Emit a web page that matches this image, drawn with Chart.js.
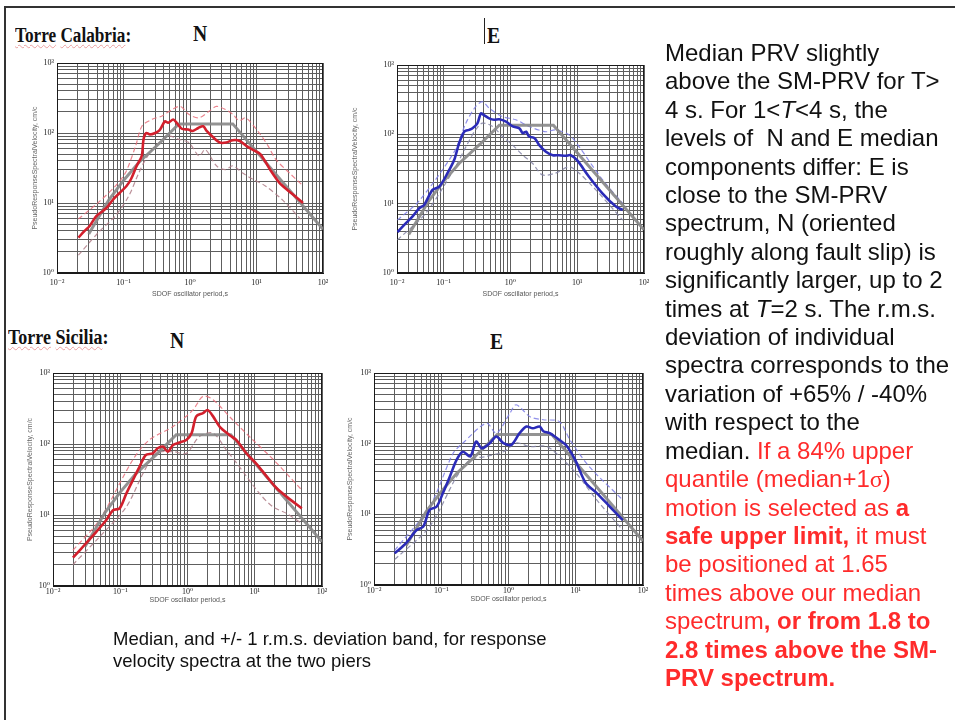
<!DOCTYPE html>
<html><head><meta charset="utf-8">
<script src="https://cdn.jsdelivr.net/npm/chart.js@4.4.1/dist/chart.umd.min.js"></script>
<style>
html,body{margin:0;padding:0;background:#fff;}
body{width:955px;height:720px;position:relative;overflow:hidden;font-family:'Liberation Sans',Arial,sans-serif;}
canvas{position:absolute;left:0;top:0;pointer-events:none;}
.frameTop{position:absolute;left:4px;top:6px;width:951px;height:2px;background:#333;}
.frameLeft{position:absolute;left:4px;top:6px;width:2px;height:714px;background:#333;}
.hd{position:absolute;font-family:'Liberation Serif','Times New Roman',serif;font-weight:bold;line-height:1;white-space:nowrap;transform-origin:0 0;color:#111;}
.sp{text-decoration:underline wavy rgba(220,90,90,0.55);text-decoration-thickness:1px;text-underline-offset:2px;}
.cursor{position:absolute;left:484px;top:18px;width:1px;height:26px;background:#222;}
.txt{position:absolute;left:665px;top:39px;font-size:24px;line-height:28.4px;color:#111;white-space:nowrap;}
.red{color:#ff2b2b;}
.cap{position:absolute;left:113px;top:628px;font-size:18.5px;line-height:22px;color:#111;white-space:nowrap;}
</style>
</head><body>
<div class="frameTop"></div><div class="frameLeft"></div>

<div class="hd" style="left:15px;top:25px;font-size:20px;transform:scaleX(0.86)"><span class="sp">Torre</span> <span class="sp">Calabria</span>:</div>
<div class="hd" style="left:193px;top:21px;font-size:24px;transform:scaleX(0.82)">N</div>
<div class="cursor"></div>
<div class="hd" style="left:487px;top:23px;font-size:24px;transform:scaleX(0.82)">E</div>
<div class="hd" style="left:8px;top:327px;font-size:20px;transform:scaleX(0.9)"><span class="sp">Torre</span> <span class="sp">Sicilia</span>:</div>
<div class="hd" style="left:170px;top:328px;font-size:24px;transform:scaleX(0.82)">N</div>
<div class="hd" style="left:490px;top:329px;font-size:24px;transform:scaleX(0.82)">E</div>

<canvas id="c1" width="955" height="720"></canvas>
<canvas id="c2" width="955" height="720"></canvas>
<canvas id="c3" width="955" height="720"></canvas>
<canvas id="c4" width="955" height="720"></canvas>

<div class="txt">Median PRV slightly<br>above the SM-PRV for T&gt;<br>4 s. For 1&lt;<i>T</i>&lt;4 s, the<br>levels of&nbsp; N and E median<br>components differ: E is<br>close to the SM-PRV<br>spectrum, N (oriented<br>roughly along fault slip) is<br>significantly larger, up to 2<br>times at <i>T</i>=2 s. The r.m.s.<br>deviation of individual<br>spectra corresponds to the<br>variation of +65% / -40%<br>with respect to the<br>median. <span class="red">If a 84% upper<br>quantile (median+1<span style="font-family:'Liberation Serif',serif">σ</span>)<br>motion is selected as <b>a<br>safe upper limit,</b> it must<br>be positioned at 1.65<br>times above our median<br>spectrum<b>, or from 1.8 to<br>2.8 times above the SM-<br>PRV spectrum.</b></span></div>

<div class="cap">Median, and +/- 1 r.m.s. deviation band, for response<br>velocity spectra at the two piers</div>

<script>
// ---------- axis labels ----------
const gridMultipliers = [1,2,3,4,5,6,7,8,9];
const yTickValues = [1, 10, 100, 1000];
const yTickLabels = ['10⁰','10¹','10²','10³'];
const xTickValues = [0.01, 0.1, 1, 10, 100];
const xTickLabels = ['10⁻²','10⁻¹','10⁰','10¹','10²'];
const xTickValuesCalE = [0.02, 0.1, 1, 10, 100];   // reference panel is cropped on the left, label kept at the edge
const xTitle = 'SDOF oscillator period,s';
const yTitle = 'PseudoResponseSpectralVelocity, cm/c';

// ---------- SM-PRV reference spectrum (grey) ----------
const smprvT = [0.03, 0.06, 0.1, 0.17, 0.35, 0.68, 4.4, 100];
const smprvV = [3.6, 11, 21, 38, 72, 135, 135, 4.2];

// ---------- Torre Calabria N ----------
const calN_medT = [0.021,0.026,0.031,0.039,0.049,0.056,0.07,0.088,0.111,0.13,0.158,0.188,0.2,0.22,0.25,0.3,0.35,0.42,0.47,0.56,0.63,0.75,0.94,1.1,1.33,1.58,1.78,2.25,2.8,3.5,4.4,5.6,7.1,9,11.4,16,22,30,40,50];
const calN_med  = [3.2,4.0,4.7,6.5,7.7,8.6,11.3,14,17.5,22,34,47,81,100,95,100,110,147,140,156,140,115,112,107,118,125,107,86,73,73,79,77,65,57,50,30,19.6,15,12,10];
const calN_upT = [0.021,0.042,0.076,0.107,0.152,0.19,0.27,0.38,0.54,0.72,0.96,1.37,1.94,2.5,3.4,4.4,5.5,6.9,11,15,19.5,31,49];
const calN_up  = [5.9,10.2,17.6,27,65,126,157,175,217,240,185,165,205,240,217,185,150,165,100,65,42,27,18];
const calN_loT = [0.021,0.042,0.076,0.12,0.17,0.215,0.3,0.48,0.68,0.96,1.37,1.7,2.5,3.4,4.4,6.1,8.7,13.6,24,46];
const calN_lo  = [1.8,3.8,6.6,12.6,27,42,65,90,81,73,47,58,34,30,34,27,22,17.5,11.3,5.9];

// ---------- Torre Calabria E ----------
const calE_medT = [0.0203,0.027,0.034,0.043,0.051,0.068,0.086,0.114,0.144,0.17,0.203,0.24,0.27,0.32,0.36,0.40,0.48,0.57,0.68,0.86,1.08,1.36,1.53,1.72,1.9,2.3,2.7,3.4,4.3,5.3,6.7,8.0,10,15,24,38,48];
const calE_med  = [3.9,5.2,6.5,8.6,9.6,15.8,17.6,27.5,43,74,109,116,122,144,200,190,170,162,165,152,130,122,104,109,93,88,70,56,50,50,49,50,42,24.5,14,9.1,8.1];
const calE_upT = [0.0203,0.043,0.144,0.215,0.30,0.38,0.48,0.76,1.2,1.9,3.4,4.7,7.6,10.7,24,48];
const calE_up  = [5.8,11,56,145,250,296,238,180,162,130,109,116,98,66,22,10.1];
const calE_loT = [0.0203,0.054,0.15,0.215,0.30,0.38,0.54,0.76,1.08,1.53,2.15,3.0,4.7,7.6,10.7,19,48];
const calE_lo  = [3.0,7.3,34,66,116,145,130,93,70,50,38,26,27.5,34,27.5,15.8,5.8];

// ---------- Torre Sicilia N ----------
const sicN_medT = [0.0198,0.031,0.044,0.062,0.078,0.098,0.123,0.154,0.194,0.24,0.305,0.36,0.43,0.51,0.61,0.76,0.96,1.15,1.35,1.7,2.0,2.4,3.0,4.2,5.3,7.5,10.5,15,21,30,50];
const sicN_med  = [2.5,4.0,5.8,8.5,11.7,12.4,20,31,48,70,74,87,92,78,97,105,114,142,245,272,300,245,176,134,114,74,53,35,24,18,12.4];
const sicN_upT = [0.0198,0.049,0.154,0.27,0.61,1.2,1.7,2.4,4.7,9.4,19,50];
const sicN_up  = [3.2,8.5,60,114,176,300,470,420,218,114,60,22.5];
const sicN_loT = [0.0198,0.049,0.123,0.22,0.34,0.61,0.96,1.5,2.4,3.8,5.9,11.8,18.7,30,50];
const sicN_lo  = [2.0,4.9,13,39,74,78,74,127,142,82,48,20,13,10.5,7.6];

// ---------- Torre Sicilia E ----------
const sicE_medT = [0.0203,0.030,0.043,0.054,0.067,0.085,0.106,0.134,0.169,0.21,0.27,0.33,0.40,0.53,0.66,0.84,1.1,1.46,1.85,2.3,2.9,3.3,4.1,5.7,7.2,9.8,14,20.5,32,50];
const sicE_med  = [2.8,3.9,6.0,6.7,11.5,12.8,20,34,59,77,66,107,86,102,126,102,96,141,175,165,175,150,141,113,95,59,28,20,12.9,8.3];
const sicE_upT = [0.0203,0.067,0.15,0.21,0.47,0.66,1.05,1.3,2.1,3.3,5.7,8.2,16,50];
const sicE_up  = [3.1,12.8,73,102,195,140,270,355,240,218,205,113,47,16];
const sicE_loT = [0.0203,0.067,0.169,0.27,0.47,0.84,1.3,2.1,3.7,6.5,10.2,20.5,50];
const sicE_lo  = [2.3,6.7,34,59,66,77,102,91,91,59,38,16,6];

// ---------- helpers ----------
function pts(T, V){ return T.map((t,i)=>({x:t, y:V[i]})); }
function gridValues(min, max){
  const out = [];
  for (let e = -3; e <= 3; e++) {
    for (const m of gridMultipliers) {
      const v = Number((m*Math.pow(10,e)).toPrecision(6));
      if (v >= min*0.9999 && v <= max*1.0001) out.push(v);
    }
  }
  if (out[0] > min*1.0001) out.unshift(min);
  return out;
}
function labelFor(v, vals, labels){
  for (let i=0;i<vals.length;i++){ if (Math.abs(Math.log10(v)-Math.log10(vals[i]))<1e-6) return labels[i]; }
  return '';
}
const framePlugin = {
  id:'frame',
  beforeDatasetsDraw(c){
    const a=c.chartArea, ctx=c.ctx;
    ctx.save(); ctx.strokeStyle='#1a1a1a'; ctx.lineWidth=1;
    ctx.strokeRect(Math.round(a.left)+0.5, Math.round(a.top)+0.5, Math.round(a.right)-Math.round(a.left)-1, Math.round(a.bottom)-Math.round(a.top)-1);
    ctx.restore();
  }
};

function makePanel(id, g, med, up, lo, colors){
  const xTicks = g.xVals;
  new Chart(document.getElementById(id), {
    type:'line',
    data:{ datasets:[
      {data:pts(med[0],med[1]), borderColor:colors.med, borderWidth:2.6, pointRadius:0, tension:0.3, fill:false},
      {data:pts(smprvT,smprvV), borderColor:'rgba(135,135,135,0.9)', borderWidth:3, pointRadius:0, tension:0, fill:false},
      {data:pts(up[0],up[1]), borderColor:colors.up, borderWidth:1.2, borderDash:[5,3], pointRadius:0, tension:0.3, fill:false},
      {data:pts(lo[0],lo[1]), borderColor:colors.lo, borderWidth:1.2, borderDash:[5,3], pointRadius:0, tension:0.3, fill:false}
    ]},
    options:{
      responsive:false, animation:false, events:[],
      layout:{padding:{left:g.L-g.yW, top:g.T, right:955-g.R, bottom:720-g.B-g.xH}},
      plugins:{legend:{display:false}, tooltip:{enabled:false}},
      scales:{
        x:{ type:'logarithmic', position:'bottom', min:g.xMin, max:100,
            afterBuildTicks:s=>{ s.ticks = gridValues(g.xMin,100).map(v=>({value:v})); },
            afterFit:s=>{ s.height = g.xH; },
            ticks:{ autoSkip:false, maxRotation:0, minRotation:0, padding:g.xPad, color:'#222',
                    font:{size:8, family:"'Liberation Serif','DejaVu Serif',serif"},
                    callback:(v)=>labelFor(v, xTicks, xTickLabels) },
            grid:{ color:'#5e5e5e', lineWidth:1, drawTicks:false },
            border:{ display:true, color:'#1a1a1a', width:1 },
            title:{ display:true, text:xTitle, color:'#555', font:{size:7, family:"'Liberation Sans',sans-serif"}, padding:{top:0,bottom:0} } },
        y:{ type:'logarithmic', position:'left', min:1, max:1000,
            afterBuildTicks:s=>{ s.ticks = gridValues(1,1000).map(v=>({value:v})); },
            afterFit:s=>{ s.width = g.yW; },
            ticks:{ autoSkip:false, padding:3, color:'#222',
                    font:{size:8, family:"'Liberation Serif','DejaVu Serif',serif"},
                    callback:(v)=>labelFor(v, yTickValues, yTickLabels) },
            grid:{ color:'#5e5e5e', lineWidth:1, drawTicks:false },
            border:{ display:true, color:'#1a1a1a', width:1 },
            title:{ display:true, text:yTitle, color:'#666', font:{size:7, family:"'Liberation Sans',sans-serif"}, padding:{top:0,bottom:0} } }
      }
    },
    plugins:[framePlugin]
  });
}

const redC  = {med:'#d21f2c', up:'rgba(232,110,122,0.85)', lo:'rgba(175,125,135,0.85)'};
const blueC = {med:'#2b2bb8', up:'rgba(125,125,230,0.85)', lo:'rgba(130,130,165,0.85)'};

makePanel('c1', {L:57,T:63,R:323,B:273,yW:26,xH:25,xPad:5,xMin:0.01,xVals:xTickValues},
  [calN_medT,calN_med],[calN_upT,calN_up],[calN_loT,calN_lo], redC);
makePanel('c2', {L:397,T:65,R:644,B:273,yW:46,xH:25,xPad:5,xMin:0.02,xVals:xTickValuesCalE},
  [calE_medT,calE_med],[calE_upT,calE_up],[calE_loT,calE_lo], blueC);
makePanel('c3', {L:53,T:373,R:322,B:586,yW:27,xH:18,xPad:1,xMin:0.01,xVals:xTickValues},
  [sicN_medT,sicN_med],[sicN_upT,sicN_up],[sicN_loT,sicN_lo], redC);
makePanel('c4', {L:374,T:373,R:643,B:585,yW:28,xH:18,xPad:1,xMin:0.01,xVals:xTickValues},
  [sicE_medT,sicE_med],[sicE_upT,sicE_up],[sicE_loT,sicE_lo], blueC);
</script>
</body></html>
